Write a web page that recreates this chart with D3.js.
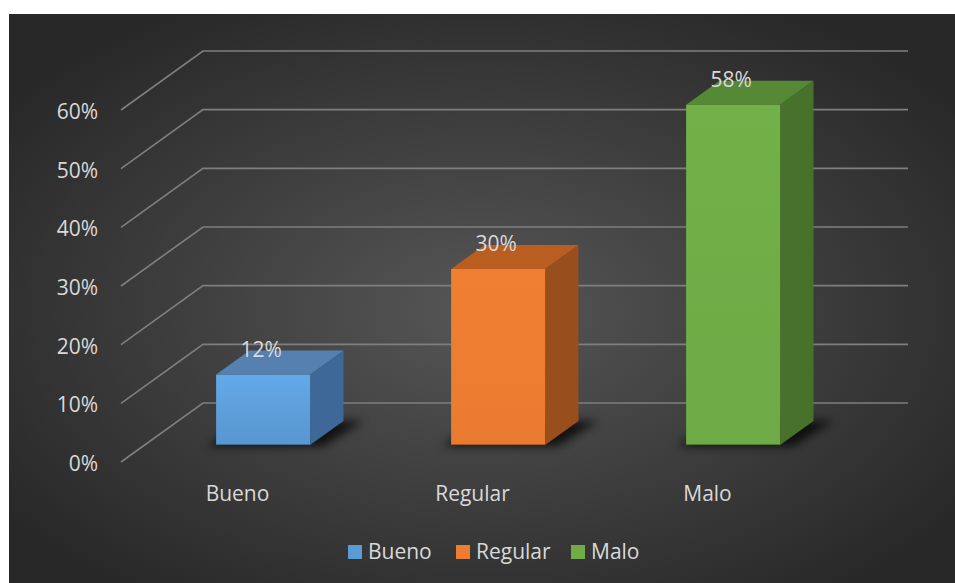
<!DOCTYPE html>
<html><head><meta charset="utf-8">
<script src="https://cdn.jsdelivr.net/npm/d3@7/dist/d3.min.js"></script>
<style>html,body{margin:0;padding:0;background:#fff;}svg{display:block;}</style>
</head><body>
<script>
const categories = ["Bueno", "Regular", "Malo"];
const values = [0.12, 0.30, 0.58];
const yTicks = [0, 0.1, 0.2, 0.3, 0.4, 0.5, 0.6];
const frontColors = ["#5b9bd5", "#ed7d31", "#70ad47"];
const topColors = ["#5580b0", "#b95d21", "#568936"];
const sideColors = ["#3d6898", "#994f1d", "#48722c"];

const W = 955, H = 583;
const svg = d3.select("body").append("svg").attr("width", W).attr("height", H);
const defs = svg.append("defs");

const bg = defs.append("radialGradient").attr("id", "bg")
  .attr("cx", "50%").attr("cy", "52%").attr("r", "62%");
bg.append("stop").attr("offset", "0%").attr("stop-color", "#565656");
bg.append("stop").attr("offset", "100%").attr("stop-color", "#282828");

const blur = defs.append("filter").attr("id", "blur").attr("x", "-50%").attr("y", "-50%").attr("width", "200%").attr("height", "200%");
blur.append("feGaussianBlur").attr("stdDeviation", 5);

const grads = [[0.25, -0.1], [0.05, -0.05], [0.05, -0.05]];
frontColors.forEach((c, i) => {
  const g = defs.append("linearGradient").attr("id", "fg" + i).attr("x1", 0).attr("y1", 0).attr("x2", 0).attr("y2", 1);
  g.append("stop").attr("offset", "0%").attr("stop-color", d3.color(c).brighter(grads[i][0]));
  g.append("stop").attr("offset", "100%").attr("stop-color", d3.color(c).brighter(grads[i][1]));
});

svg.append("rect").attr("x", 9).attr("y", 14).attr("width", W - 9).attr("height", H - 14).attr("fill", "url(#bg)");

// oblique projection
const DX = 82, DY = -59;
const x = d3.scaleBand().domain(categories).range([122, 827]).paddingInner(0.6).paddingOuter(0.3);
const y = d3.scaleLinear().domain([0, 0.6]).range([462, 110]);
const P = (xf, v, t) => [xf + t * DX, y(v) + t * DY];
const t0 = 0.288, t1 = 0.695;

// gridlines
const grid = svg.append("g").attr("fill", "none").attr("stroke", "#7f7f7f").attr("stroke-width", 1.6);
yTicks.forEach(v => {
  grid.append("path").attr("d", d3.line()([P(121, v, 0), P(121, v, 1), P(826, v, 1)]));
});

// y axis labels
const font = "'Open Sans', 'Noto Sans', sans-serif";
const fs = 21;
svg.append("g").selectAll("text").data(yTicks).join("text")
  .attr("x", 98).attr("y", d => y(d) + 9)
  .attr("text-anchor", "end").attr("font-family", font).attr("font-size", fs)
  .attr("fill", "#d9d9d9").text(d => d3.format(".0%")(d));

// category labels
svg.append("g").selectAll("text").data(categories).join("text")
  .attr("x", d => x(d) + x.bandwidth() / 2 - 2).attr("y", 501)
  .attr("text-anchor", "middle").attr("font-family", font).attr("font-size", fs)
  .attr("fill", "#d9d9d9").text(d => d);

// bars
const bars = svg.append("g");
categories.forEach((c, i) => {
  const xa = x(c), xb = x(c) + x.bandwidth(), v = values[i];
  const g = bars.append("g");
  // shadow
  const sh = [P(xa - 8, 0, t0 - 0.02), P(xb + 14, 0, t0 - 0.02), P(xb + 20, 0, t1), P(xa, 0, t1)];
  g.append("path").attr("d", d3.line()(sh) + "Z").attr("fill", "#000").attr("opacity", 0.75).attr("filter", "url(#blur)");
  // side face
  g.append("path").attr("d", d3.line()([P(xb, 0, t0), P(xb, 0, t1), P(xb, v, t1), P(xb, v, t0)]) + "Z")
    .attr("fill", sideColors[i]);
  // top face
  g.append("path").attr("d", d3.line()([P(xa, v, t0), P(xb, v, t0), P(xb, v, t1), P(xa, v, t1)]) + "Z")
    .attr("fill", topColors[i]);
  // front face
  const f0 = P(xa, v, t0), f1 = P(xb, 0, t0);
  g.append("rect").attr("x", f0[0]).attr("y", f0[1]).attr("width", f1[0] - f0[0]).attr("height", f1[1] - f0[1])
    .attr("fill", "url(#fg" + i + ")");
  g.append("line").attr("x1", f0[0]).attr("x2", f1[0]).attr("y1", f1[1] - 0.5).attr("y2", f1[1] - 0.5)
    .attr("stroke", d3.color(frontColors[i]).darker(1)).attr("stroke-width", 1);
  // data label
  const lb = P((xa + xb) / 2 - 2, v, t1);
  g.append("text").attr("x", lb[0] - (t1 - t0) * DX).attr("y", lb[1] + 6)
    .attr("text-anchor", "middle").attr("font-family", font).attr("font-size", fs)
    .attr("fill", "#d9d9d9").text(d3.format(".0%")(v));
});

// legend
const legX = [348, 456, 571];
const leg = svg.append("g");
categories.forEach((c, i) => {
  leg.append("rect").attr("x", legX[i]).attr("y", 545).attr("width", 14).attr("height", 14).attr("fill", frontColors[i]);
  leg.append("text").attr("x", legX[i] + 20).attr("y", 559).attr("font-family", font).attr("font-size", fs)
    .attr("fill", "#d9d9d9").text(c);
});
</script>
</body></html>
